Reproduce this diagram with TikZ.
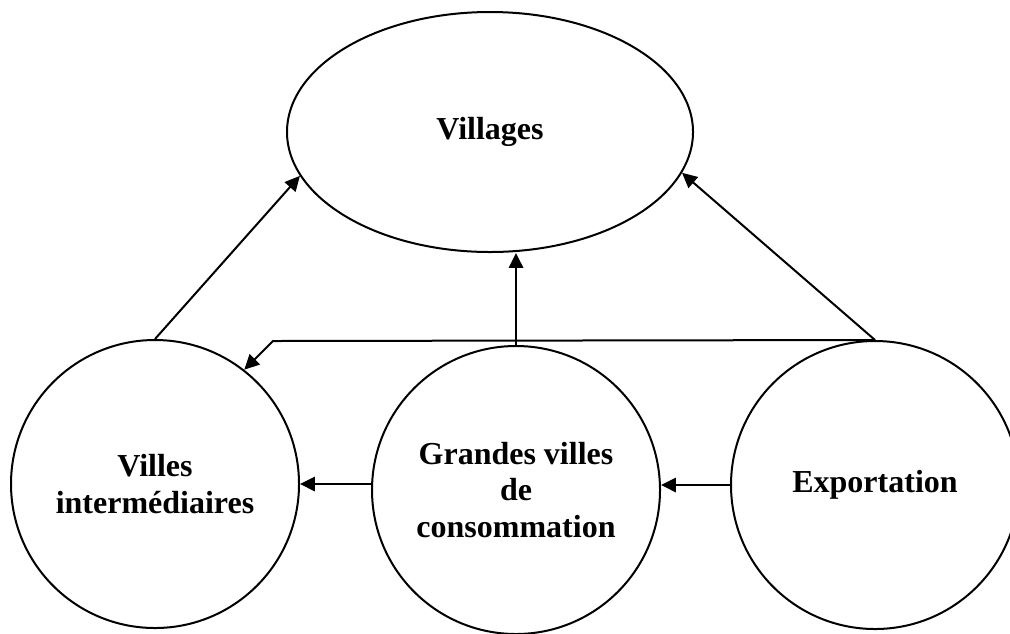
\documentclass[tikz,border=0pt]{standalone}
\usepackage{fontspec}
\setmainfont{Liberation Serif}
\usetikzlibrary{shapes.geometric,arrows.meta}

\begin{document}
\begin{tikzpicture}[x=0.375pt, y=-0.375pt, line width=0.75pt,
    texte/.style={align=center, font=\fontsize{12}{13.8}\selectfont\bfseries},
    cercle/.style={draw, circle, minimum size=108pt, inner sep=0pt, texte},
    fleche/.style={-{Triangle[length=5.6pt,width=5.4pt]}}]
    \useasboundingbox (0,0) rectangle (1010,633);
    % noeuds
    \node [draw, ellipse, minimum width=152.25pt, minimum height=90pt, texte] (villages) at (490,132) {Villages};
    \node [cercle] (villes) at (155,484) {Villes\\intermédiaires};
    \node [cercle] (grandes) at (516,490) {Grandes villes\\de\\consommation};
    \node [cercle] (export) at (875,485) {Exportation};
    \coordinate (coude) at (273,341);
    % fleches
    \draw [fleche] (villes.north) -- (villages.193);
    \draw [fleche] (export.north) -- (villages.348);
    \draw [fleche] (grandes.north) -- (grandes.north |- villages.south);
    \draw [fleche] (export.north) -- (coude) -- (villes.52);
    \draw [fleche] (grandes.west |- villes) -- (villes.east);
    \draw [fleche] (export.west) -- (grandes.east |- export.west);
\end{tikzpicture}
\end{document}
